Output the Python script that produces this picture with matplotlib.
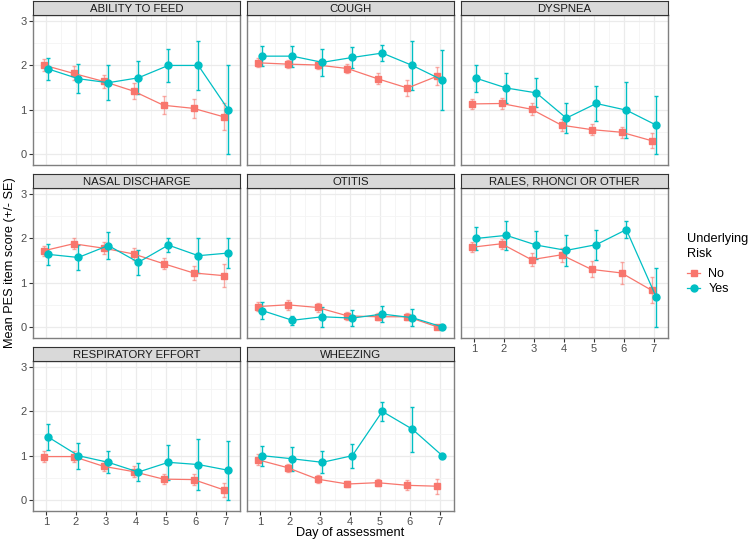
import numpy as np
import matplotlib
matplotlib.use("Agg")
import matplotlib.pyplot as plt
from matplotlib.lines import Line2D

plt.rcParams['font.family'] = ['Liberation Sans', 'DejaVu Sans']

days = [1, 2, 3, 4, 5, 6, 7]
panels = ["ABILITY TO FEED", "COUGH", "DYSPNEA", "NASAL DISCHARGE", "OTITIS",
          "RALES, RHONCI OR OTHER", "RESPIRATORY EFFORT", "WHEEZING"]

# mean score and SE, per item, for No / Yes underlying risk
feed_no = [2.01, 1.82, 1.64, 1.42, 1.10, 1.03, 0.84]
feed_no_se = [0.14, 0.16, 0.15, 0.18, 0.20, 0.22, 0.30]
feed_yes = [1.92, 1.70, 1.61, 1.72, 2.00, 2.00, 1.00]
feed_yes_se = [0.25, 0.33, 0.39, 0.37, 0.38, 0.55, 1.00]

cough_no = [2.06, 2.03, 2.01, 1.93, 1.70, 1.49, 1.76]
cough_no_se = [0.10, 0.09, 0.09, 0.10, 0.12, 0.17, 0.21]
cough_yes = [2.21, 2.21, 2.07, 2.18, 2.28, 2.00, 1.67]
cough_yes_se = [0.23, 0.24, 0.30, 0.24, 0.19, 0.55, 0.67]

dysp_no = [1.13, 1.14, 1.01, 0.65, 0.55, 0.49, 0.30]
dysp_no_se = [0.12, 0.13, 0.13, 0.14, 0.13, 0.13, 0.17]
dysp_yes = [1.71, 1.49, 1.38, 0.81, 1.14, 0.99, 0.65]
dysp_yes_se = [0.30, 0.33, 0.33, 0.33, 0.40, 0.63, 0.66]

nasal_no = [1.72, 1.88, 1.78, 1.65, 1.43, 1.22, 1.16]
nasal_no_se = [0.12, 0.12, 0.13, 0.13, 0.13, 0.16, 0.26]
nasal_yes = [1.64, 1.57, 1.84, 1.46, 1.85, 1.61, 1.67]
nasal_yes_se = [0.24, 0.28, 0.30, 0.29, 0.15, 0.40, 0.33]

otitis_no = [0.46, 0.50, 0.44, 0.25, 0.23, 0.23, 0.0]
otitis_no_se = [0.10, 0.11, 0.10, 0.09, 0.08, 0.08, 0.0]
otitis_yes = [0.37, 0.15, 0.23, 0.20, 0.29, 0.21, 0.0]
otitis_yes_se = [0.20, 0.10, 0.23, 0.19, 0.18, 0.20, 0.0]

rales_no = [1.80, 1.88, 1.52, 1.63, 1.30, 1.22, 0.83]
rales_no_se = [0.11, 0.11, 0.15, 0.16, 0.18, 0.24, 0.30]
rales_yes = [2.00, 2.07, 1.85, 1.73, 1.86, 2.20, 0.67]
rales_yes_se = [0.26, 0.33, 0.32, 0.35, 0.34, 0.20, 0.67]

resp_no = [0.98, 0.98, 0.76, 0.64, 0.47, 0.46, 0.23]
resp_no_se = [0.12, 0.12, 0.11, 0.12, 0.12, 0.13, 0.16]
resp_yes = [1.42, 1.00, 0.85, 0.63, 0.85, 0.80, 0.67]
resp_yes_se = [0.29, 0.29, 0.25, 0.21, 0.40, 0.58, 0.67]

wheeze_no = [0.91, 0.73, 0.47, 0.36, 0.39, 0.33, 0.31]
wheeze_no_se = [0.12, 0.09, 0.09, 0.07, 0.08, 0.11, 0.17]
wheeze_yes = [1.00, 0.93, 0.85, 1.00, 2.00, 1.60, 1.00]
wheeze_yes_se = [0.23, 0.27, 0.25, 0.27, 0.21, 0.51, 0.0]

data = [
    (feed_no, feed_no_se, feed_yes, feed_yes_se),
    (cough_no, cough_no_se, cough_yes, cough_yes_se),
    (dysp_no, dysp_no_se, dysp_yes, dysp_yes_se),
    (nasal_no, nasal_no_se, nasal_yes, nasal_yes_se),
    (otitis_no, otitis_no_se, otitis_yes, otitis_yes_se),
    (rales_no, rales_no_se, rales_yes, rales_yes_se),
    (resp_no, resp_no_se, resp_yes, resp_yes_se),
    (wheeze_no, wheeze_no_se, wheeze_yes, wheeze_yes_se),
]

RED = "#F8766D"
TEAL = "#00BFC4"
W, H = 750, 543

fig = plt.figure(figsize=(7.5, 5.43), dpi=100)

col_x = [33, 247, 461]
row_top = [15, 188, 361]
pw, ph = 207, 150
strip_h = 14
x = np.array(days, dtype=float)

for i, name in enumerate(panels):
    r, c = divmod(i, 3)
    left = col_x[c] / W
    bottom = 1 - (row_top[r] + ph) / H
    ax = fig.add_axes([left, bottom, pw / W, ph / H])
    sax = fig.add_axes([left, 1 - row_top[r] / H, pw / W, strip_h / H])
    sax.set_facecolor("#D9D9D9")
    sax.set_xticks([])
    sax.set_yticks([])
    for s in sax.spines.values():
        s.set_color("#333333")
        s.set_linewidth(0.8)
    sax.text(0.5, 0.45, name, ha="center", va="center", fontsize=8.2,
             color="#1A1A1A", transform=sax.transAxes)

    no, no_se, yes, yes_se = data[i]
    ax.errorbar(x - 0.08, no, yerr=no_se, color=RED, alpha=0.6, lw=1.0,
                capsize=1.3, capthick=1.0, fmt="none", zorder=3)
    ax.plot(x - 0.08, no, color=RED, lw=0.9, marker="s", ms=5, zorder=4)
    ax.errorbar(x + 0.08, yes, yerr=yes_se, color=TEAL, lw=1.0,
                capsize=1.3, capthick=1.0, fmt="none", zorder=3)
    ax.plot(x + 0.08, yes, color=TEAL, lw=0.9, marker="o", ms=5, zorder=4)

    ax.set_xlim(0.57, 7.47)
    ax.set_ylim(-0.25, 3.14)
    ax.set_xticks(days)
    ax.set_xticks(np.arange(1.5, 7, 1), minor=True)
    ax.set_yticks([0, 1, 2, 3])
    ax.set_yticks([0.5, 1.5, 2.5], minor=True)
    ax.grid(which="major", color="#EBEBEB", lw=0.9)
    ax.grid(which="minor", color="#F4F4F4", lw=0.6)
    ax.set_axisbelow(True)
    for s in ax.spines.values():
        s.set_color("#7F7F7F")
        s.set_linewidth(1.0)
    ax.tick_params(which="major", length=3, color="#333333", width=0.8,
                   labelsize=8, labelcolor="#4D4D4D", pad=1.5)
    ax.tick_params(which="minor", length=0)
    if c != 0:
        ax.tick_params(axis="y", which="major", labelleft=False, length=0)
    if not (r == 2 or (r == 1 and c == 2)):
        ax.tick_params(axis="x", which="major", labelbottom=False, length=0)

fig.text(10 / W, 1 - 263 / H, "Mean PES item score (+/- SE)", rotation=90,
         ha="center", va="center", fontsize=9.2)
fig.text(350 / W, 1 - 533 / H, "Day of assessment", ha="center", va="center",
         fontsize=9.2)

# legend title placed on its own so the gap to the keys matches
fig.text(687 / W, 1 - 246.5 / H, "Underlying\nRisk", ha="left", va="center",
         fontsize=9.2, linespacing=1.25)
handles = [
    Line2D([], [], color=RED, marker="s", ms=5, lw=0.9),
    Line2D([], [], color=TEAL, marker="o", ms=5, lw=0.9),
]
fig.legend(handles, ["No", "Yes"],
           loc="upper left", bbox_to_anchor=(687 / W, 1 - 268 / H),
           frameon=False, fontsize=9,
           borderpad=0, borderaxespad=0,
           handlelength=1.05, handletextpad=0.65, labelspacing=0.25)

fig.savefig("out.png", dpi=100)
